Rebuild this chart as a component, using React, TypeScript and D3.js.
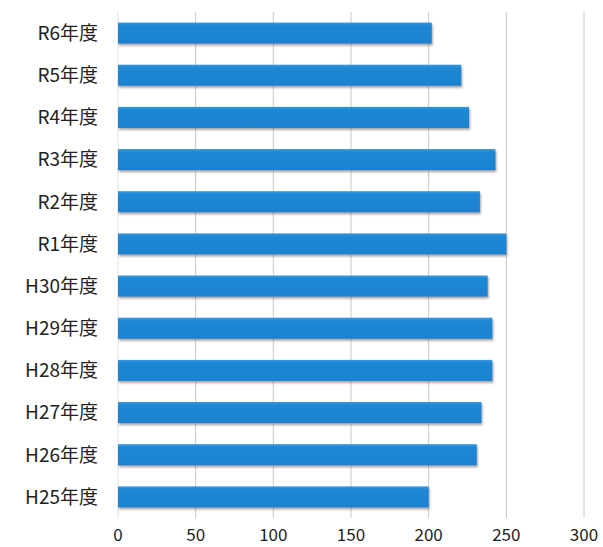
import React from "react";
import * as d3 from "d3";

const categories = ["R6年度", "R5年度", "R4年度", "R3年度", "R2年度", "R1年度", "H30年度", "H29年度", "H28年度", "H27年度", "H26年度", "H25年度"];
const values = [202, 221, 226, 243, 233, 250, 238, 241, 241, 234, 231, 200];
const xTicks = [0, 50, 100, 150, 200, 250, 300];

const W = 603;
const H = 547;
const left = 118;
const right = 584;
const top = 12;
const bottom = 518;

export default function App() {
  const x = d3.scaleLinear().domain([0, 300]).range([left, right]);
  const y = d3.scaleBand<string>().domain(categories).range([top, bottom]).paddingInner(0.5).paddingOuter(0.25);
  const font = "'Noto Sans CJK JP', 'Noto Sans', sans-serif";
  return (
    <svg width={W} height={H} style={{ position: "absolute", left: 0, top: 0, background: "#fff" }}>
      <defs>
        <filter id="sh" x="-5%" y="-30%" width="110%" height="190%">
          <feDropShadow dx="1" dy="2" stdDeviation="1.2" floodColor="#6a5a5a" floodOpacity="0.55" />
        </filter>
        <linearGradient id="bg" x1="0" y1="0" x2="0" y2="1">
          <stop offset="0" stopColor="#3597de" />
          <stop offset="0.15" stopColor="#1f88d6" />
          <stop offset="1" stopColor="#1c82cf" />
        </linearGradient>
      </defs>
      {xTicks.map((t) => (
        <line key={t} x1={x(t)} x2={x(t)} y1={top} y2={bottom} stroke={t === 0 ? "#e2e2e2" : "#c8c8c8"} strokeWidth={1} />
      ))}
      {categories.map((c, i) => (
        <rect key={c} x={x(0)} y={y(c)!} width={x(values[i]) - x(0)} height={y.bandwidth()} fill="url(#bg)" filter="url(#sh)" />
      ))}
      {categories.map((c) => (
        <text key={c} x={98} y={y(c)! + y.bandwidth() / 2} dy="0.36em" textAnchor="end" fontSize={19} fill="#222" fontFamily={font}>
          {c}
        </text>
      ))}
      {xTicks.map((t) => (
        <text key={t} x={x(t)} y={541} textAnchor="middle" fontSize={17} fill="#222" fontFamily={font}>
          {t}
        </text>
      ))}
    </svg>
  );
}
